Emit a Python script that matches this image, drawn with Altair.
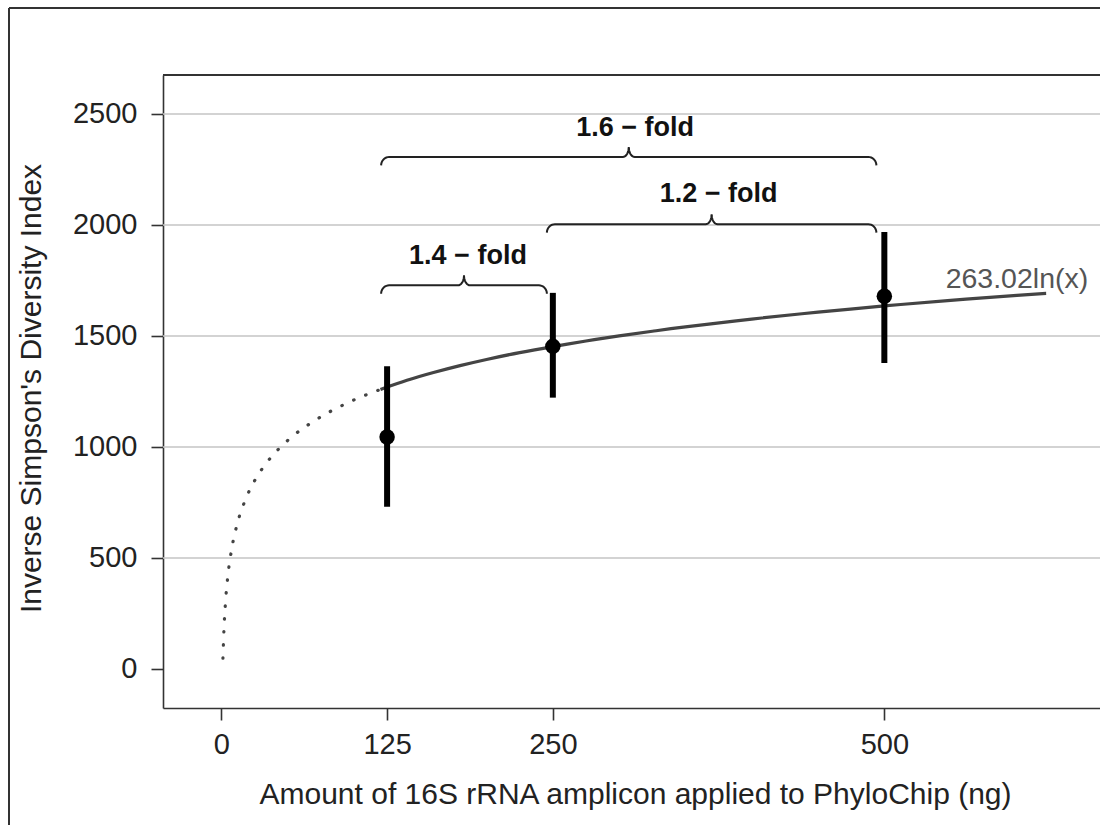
import altair as alt
import pandas as pd
import numpy as np

# ---- data ----
amount = [125, 250, 500]
diversity_mean = [1045, 1453, 1679]
diversity_lo = [730, 1222, 1378]
diversity_hi = [1363, 1694, 1968]

# fitted curve 263.02 ln(x)
fit_dotted_x = [1.2, 2, 3, 5, 8, 12, 18, 25, 35, 50, 70, 95, 120]
fit_dotted_y = [48, 182, 289, 423, 547, 654, 760, 847, 935, 1029, 1117, 1198, 1259]
fit_solid_x = [120, 140, 160, 180, 200, 225, 250, 275, 300, 325, 350, 400, 450, 500, 550, 600, 622]
fit_solid_y = [1259, 1300, 1335, 1366, 1394, 1425, 1452, 1477, 1500, 1521, 1541, 1576, 1607, 1635, 1660, 1683, 1692]

gridlines = [500, 1000, 1500, 2000, 2500]
x_ticks = [0, 125, 250, 500]
y_ticks = [0, 500, 1000, 1500, 2000, 2500]

brace_labels = ["1.4 \u2212 fold", "1.2 \u2212 fold", "1.6 \u2212 fold"]
brace_start = [120.5, 245.5, 120.5]
brace_end = [245.5, 494, 494]
brace_level = [1728, 2003, 2306]
label_x = [186, 375, 312]
label_y = [1823, 2104, 2401]

eq_text = ["263.02ln(x)"]
eq_x = [600]
eq_y = [1756]

# ---- geometry ----
W, H = 937, 633
PX_PER_X = 1.326
PX_PER_Y = 0.222
X_DOMAIN = [-44, -44 + W / PX_PER_X]
Y_DOMAIN = [-176, -176 + H / PX_PER_Y]

FONT = "Liberation Sans"

xs = alt.Scale(domain=X_DOMAIN, nice=False, zero=False)
ys = alt.Scale(domain=Y_DOMAIN, nice=False, zero=False)

x_axis = alt.Axis(values=x_ticks, grid=False, format="d",
                  title="Amount of 16S rRNA amplicon applied to PhyloChip (ng)",
                  labelPadding=10, titleX=472, titleY=95, titleAlign="center",
                  titleBaseline="alphabetic")
y_axis = alt.Axis(values=y_ticks, grid=False, format="d", title="Inverse Simpson's Diversity Index",
                  labelPadding=14, titleX=-123, titleY=313, titleAngle=270,
                  titleAlign="center", titleBaseline="alphabetic")

# brace shapes built from the brace extents
curl_w, peak_w = 6.0, 4.5
depth, peak_h = 38.0, 45.0
t = np.linspace(0, np.pi / 2, 10)
rows = []
for i, (a, b, L) in enumerate(zip(brace_start, brace_end, brace_level)):
    m = (a + b) / 2
    pts = []
    pts += list(zip(a + curl_w * (1 - np.cos(t)), L - depth * (1 - np.sin(t))))
    pts += list(zip(m - peak_w + peak_w * np.sin(t), L + peak_h * (1 - np.cos(t))))
    pts += list(zip((m + peak_w - peak_w * np.sin(t))[::-1], (L + peak_h * (1 - np.cos(t)))[::-1]))
    pts += list(zip((b - curl_w * (1 - np.cos(t)))[::-1], (L - depth * (1 - np.sin(t)))[::-1]))
    for k, (px, py) in enumerate(pts):
        rows.append({"brace": i, "k": k, "x": float(px), "y": float(py)})
brace_df = pd.DataFrame(rows)

pts_df = pd.DataFrame({"x": amount, "y": diversity_mean, "lo": diversity_lo, "hi": diversity_hi})
dot_df = pd.DataFrame({"x": fit_dotted_x, "y": fit_dotted_y})
sol_df = pd.DataFrame({"x": fit_solid_x, "y": fit_solid_y})
grid_df = pd.DataFrame({"y": gridlines})
lab_df = pd.DataFrame({"t": brace_labels, "x": label_x, "y": label_y})
eq_df = pd.DataFrame({"t": eq_text, "x": eq_x, "y": eq_y})

X = lambda f="x": alt.X(f"{f}:Q", scale=xs, axis=x_axis)
Y = lambda f="y": alt.Y(f"{f}:Q", scale=ys, axis=y_axis)

grid = alt.Chart(grid_df).mark_rule(color="#c4c4c4", strokeWidth=1.6).encode(y=Y())

top_border = alt.Chart(grid_df).mark_rule(color="#333333", strokeWidth=1.6).encode(
    x=alt.value(0), x2=alt.value(W), y=alt.value(0))
frame_left = alt.Chart(grid_df).mark_rule(color="#333333", strokeWidth=1.6).encode(
    x=alt.value(-154), y=alt.value(-67), y2=alt.value(H + 120))
frame_top = alt.Chart(grid_df).mark_rule(color="#333333", strokeWidth=1.6).encode(
    x=alt.value(-154), x2=alt.value(W + 10), y=alt.value(-67))

dotted = alt.Chart(dot_df).mark_line(color="#444444", strokeWidth=3.2, strokeDash=[0.5, 12.5],
                                     strokeCap="round", interpolate="monotone").encode(x=X(), y=Y())
solid = alt.Chart(sol_df).mark_line(color="#444444", strokeWidth=3.2,
                                    interpolate="natural").encode(x=X(), y=Y())

bars = alt.Chart(pts_df).mark_rule(color="black", strokeWidth=6).encode(x=X(), y=Y("lo"), y2="hi:Q")
dots = alt.Chart(pts_df).mark_circle(color="black", size=240, opacity=1).encode(x=X(), y=Y())

braces = alt.Chart(brace_df).mark_line(color="#222222", strokeWidth=2).encode(
    x=X(), y=Y(), detail="brace:N", order="k:Q")

labels = alt.Chart(lab_df).mark_text(font=FONT, fontSize=27, fontWeight="bold", color="#111111",
                                     align="center", baseline="alphabetic").encode(x=X(), y=Y(), text="t:N")
eq = alt.Chart(eq_df).mark_text(font=FONT, fontSize=28.5, color="#555555",
                                align="center", baseline="middle").encode(x=X(), y=Y(), text="t:N")

chart = alt.layer(grid, top_border, frame_left, frame_top, dotted, solid, bars, dots,
                  braces, labels, eq).properties(
    width=W, height=H,
    autosize=alt.AutoSizeParams(type="none"),
    padding={"left": 163, "top": 75, "right": 0, "bottom": 117},
    background="white",
).configure_view(stroke=None).configure_axis(
    domainColor="#333333", domainWidth=1.6, tickColor="#333333", tickWidth=1.6, tickSize=12,
    labelFont=FONT, labelFontSize=29, labelColor="#222222",
    titleFont=FONT, titleFontSize=30, titleFontWeight="normal", titleColor="#222222",
)

chart.save("out.html", embed_options={"renderer": "svg", "actions": False})
